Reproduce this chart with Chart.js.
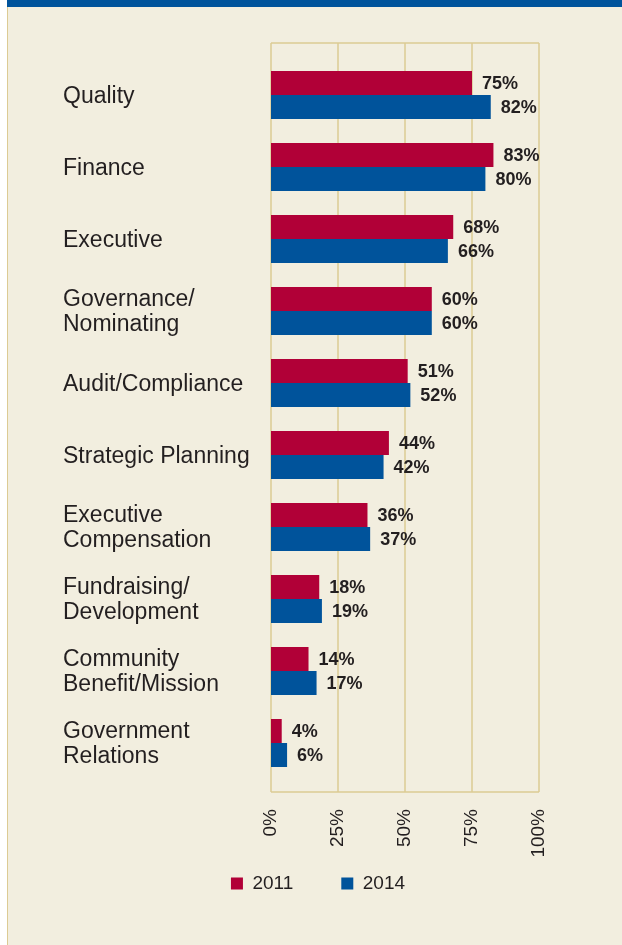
<!DOCTYPE html>
<html>
<head>
<meta charset="utf-8">
<script src="https://cdn.jsdelivr.net/npm/chart.js@4.4.1/dist/chart.umd.min.js"></script>
<style>
  html, body { margin: 0; padding: 0; background: #ffffff; }
  #panel { position: absolute; left: 7px; top: 0; width: 615px; height: 945px; background: #F2EEDF; border-left: 1.5px solid #DCCB94; box-sizing: border-box; }
  #band { position: absolute; left: 7px; top: 0; width: 615px; height: 7px; background: #00539B; }
  #chart { position: absolute; left: 0; top: 0; }
</style>
</head>
<body>
<div id="panel"></div>
<div id="band"></div>
<canvas id="chart" width="622" height="945"></canvas>
<script>
// Committee categories (multi-line labels are arrays)
const categories = [
  'Quality',
  'Finance',
  'Executive',
  ['Governance/', 'Nominating'],
  'Audit/Compliance',
  'Strategic Planning',
  ['Executive', 'Compensation'],
  ['Fundraising/', 'Development'],
  ['Community', 'Benefit/Mission'],
  ['Government', 'Relations']
];
const values2011 = [75, 83, 68, 60, 51, 44, 36, 18, 14, 4];
const values2014 = [82, 80, 66, 60, 52, 42, 37, 19, 17, 6];
const xTicks = [0, 25, 50, 75, 100];

const RED = '#B10037';
const BLUE = '#00539B';
const GRID = '#DCCB94';
const TEXT = '#231F20';

Chart.defaults.font.family = '"Liberation Sans", Arial, Helvetica, sans-serif';
Chart.defaults.color = TEXT;

// Draws the tan grid box, a bit taller than the bar area
const gridBox = {
  id: 'gridBox',
  beforeDatasetsDraw(chart) {
    const { ctx, chartArea, scales: { x } } = chart;
    const top = chartArea.top - 16;
    const bottom = chartArea.bottom + 13;
    ctx.save();
    ctx.strokeStyle = GRID;
    ctx.lineWidth = 1.5;
    ctx.beginPath();
    xTicks.forEach(v => {
      const px = x.getPixelForValue(v);
      ctx.moveTo(px, top);
      ctx.lineTo(px, bottom);
    });
    ctx.moveTo(x.getPixelForValue(0), top);
    ctx.lineTo(x.getPixelForValue(100), top);
    ctx.moveTo(x.getPixelForValue(0), bottom);
    ctx.lineTo(x.getPixelForValue(100), bottom);
    ctx.stroke();
    ctx.restore();
  }
};

// Percent labels at the end of each bar
const barValueLabels = {
  id: 'barValueLabels',
  afterDatasetsDraw(chart) {
    const ctx = chart.ctx;
    ctx.save();
    ctx.font = 'bold 18px "Liberation Sans", Arial, sans-serif';
    ctx.fillStyle = TEXT;
    ctx.textBaseline = 'middle';
    chart.data.datasets.forEach((ds, i) => {
      chart.getDatasetMeta(i).data.forEach((bar, j) => {
        ctx.fillText(ds.data[j] + '%', bar.x + 10, bar.y + 1);
      });
    });
    ctx.restore();
  }
};

// Small layout tweaks: the legend sits a bit right of centre, and the
// rotated x tick labels reach down past the (short) x axis box
const layoutTweaks = {
  id: 'layoutTweaks',
  afterLayout(chart) {
    chart.legend.left += 17;
    chart.legend.right += 17;
    chart.scales.x.bottom = chart.scales.x.top + 90;
  }
};

new Chart(document.getElementById('chart'), {
  type: 'bar',
  data: {
    labels: categories,
    datasets: [
      { label: '2011', data: values2011, backgroundColor: RED, borderWidth: 0 },
      { label: '2014', data: values2014, backgroundColor: BLUE, borderWidth: 0 }
    ]
  },
  options: {
    indexAxis: 'y',
    responsive: false,
    animation: false,
    events: [],
    layout: { padding: { top: 59, left: 63, right: 83, bottom: 42 } },
    datasets: { bar: { barPercentage: 1, categoryPercentage: 48 / 72 } },
    scales: {
      x: {
        min: 0,
        max: 100,
        afterBuildTicks: s => { s.ticks = xTicks.map(v => ({ value: v })); },
        afterFit: s => { s.height = 47; },
        ticks: {
          callback: v => v + '%',
          minRotation: 90,
          maxRotation: 90,
          autoSkip: false,
          padding: 22,
          font: { size: 19 },
          color: TEXT
        },
        grid: { display: false },
        border: { display: false }
      },
      y: {
        afterFit: s => { s.width = 208; },
        ticks: {
          crossAlign: 'far',
          padding: 0,
          labelOffset: 1.5,
          font: { size: 23, lineHeight: 1.09 },
          color: TEXT
        },
        grid: { display: false },
        border: { display: false }
      }
    },
    plugins: {
      legend: {
        position: 'bottom',
        labels: {
          boxWidth: 12,
          boxHeight: 12,
          padding: 48,
          font: { size: 19 },
          color: TEXT
        }
      },
      tooltip: { enabled: false }
    }
  },
  plugins: [gridBox, barValueLabels, layoutTweaks]
});
</script>
</body>
</html>
